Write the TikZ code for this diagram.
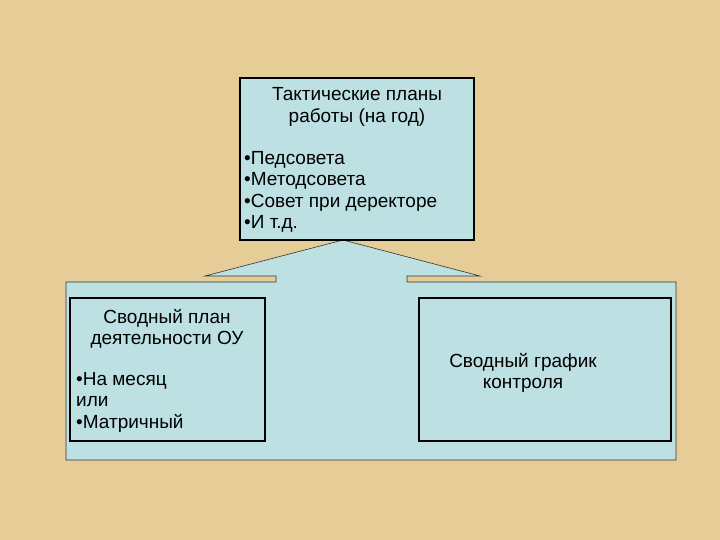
\documentclass[tikz,border=0pt]{standalone}
\usepackage{fontspec}
\setmainfont{Liberation Sans}
\definecolor{bg}{HTML}{E6CD98}
\definecolor{lb}{HTML}{BDE0E3}
\begin{document}
\begin{tikzpicture}[x=1pt,y=-1pt,
  box/.style={draw=black,line width=1.6pt,fill=lb},
  txt/.style={font=\fontsize{19}{21.5}\selectfont,inner sep=0pt}]
\useasboundingbox (0,0) rectangle (720,540);
\fill[bg] (0,0) rectangle (720,540);
\draw[fill=lb,draw=black!80,line width=0.6pt] (66,282) -- (276,282) -- (276,276) -- (205,276) -- (343,240) -- (480,276) -- (407,276) -- (407,282) -- (676,282) -- (676,460) -- (66,460) -- cycle;
\draw[box] (240,78) rectangle (474,240);
\draw[box] (70,298) rectangle (265,441);
\draw[box] (419,298) rectangle (671,441);
\node[txt,align=center] (t1) at (357,107) {Тактические планы\\работы (на год)};
\node[txt,align=left,anchor=north west] (t2) at (244,151) {•Педсовета\\•Методсовета\\•Совет при деректоре\\•И т.д.};
\node[txt,align=center] (l1) at (167,329) {Сводный план\\деятельности ОУ};
\node[txt,align=left,anchor=north west] (l2) at (76,372) {•На месяц\\или\\•Матричный};
\node[txt,align=center] (r1) at (523,373) {Сводный график\\контроля};
\end{tikzpicture}
\end{document}
